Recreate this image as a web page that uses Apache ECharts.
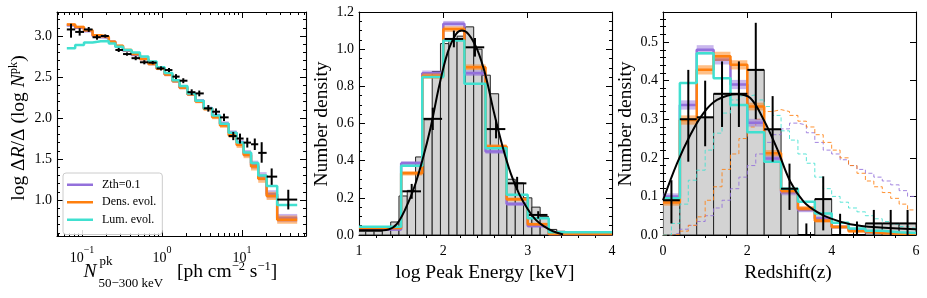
<!DOCTYPE html>
<html><head><meta charset="utf-8">
<script src="https://cdn.jsdelivr.net/npm/echarts@6/dist/echarts.min.js"></script>
<style>html,body{margin:0;padding:0;background:#fff}#c{width:927px;height:298px}</style>
</head><body><div id="c"></div>
<script>
// ================= DATA =================
// ---- Left panel: logN-logS (x in ph cm^-2 s^-1) ----
const leftEdges = [0.0646,0.0822,0.1059,0.1355,0.1718,0.2163,0.2612,0.3258,0.4159,0.5297,0.6761,0.8570,1.079,1.349,1.660,2.080,2.618,3.327,4.236,5.309,6.808,8.570,10.47,12.97,15.96,20.32,27.54,48.98];
const leftZth  = [3.13,3.10,3.06,3.00,2.98,2.93,2.87,2.82,2.77,2.72,2.66,2.60,2.53,2.45,2.37,2.29,2.21,2.12,2.03,1.93,1.82,1.70,1.57,1.43,1.29,1.07,0.78];
const leftZthErr = [0.015,0.015,0.015,0.015,0.015,0.015,0.015,0.015,0.015,0.015,0.015,0.015,0.02,0.02,0.02,0.02,0.02,0.02,0.025,0.03,0.03,0.035,0.04,0.05,0.05,0.05,0.05];
const leftDens = [3.14,3.11,3.07,3.01,2.99,2.93,2.88,2.83,2.78,2.72,2.66,2.60,2.53,2.45,2.37,2.29,2.20,2.11,2.01,1.91,1.79,1.67,1.55,1.41,1.26,1.05,0.76];
const leftDensErr = [0.015,0.015,0.015,0.015,0.015,0.015,0.015,0.015,0.015,0.015,0.015,0.015,0.02,0.02,0.02,0.02,0.02,0.02,0.025,0.03,0.03,0.035,0.04,0.05,0.05,0.05,0.05];
const leftLum  = [2.85,2.89,2.92,2.935,2.94,2.91,2.87,2.83,2.80,2.75,2.69,2.62,2.55,2.46,2.39,2.30,2.21,2.12,2.03,1.93,1.82,1.70,1.58,1.45,1.30,1.17,0.94];
const leftObsBin = [0,1,2,3,4,6,7,8,9,10,11,12,13,14,15,16,17,18,19,20,21,22,23,24,25,26];
const leftObsX = [0.0729,0.0935,0.1213,0.154,0.1954,0.2877,0.365,0.469,0.601,0.766,0.972,1.223,1.496,1.845,2.35,2.924,3.793,4.732,5.957,7.78,9.44,11.64,14.45,17.62,23.5,37.9];
const leftObsY = [3.08,3.05,3.08,2.985,3.0,2.83,2.78,2.73,2.68,2.675,2.605,2.585,2.505,2.455,2.315,2.30,2.118,2.077,2.008,1.78,1.75,1.70,1.68,1.575,1.285,1.005];
const leftObsErrLo = [0.10,0.045,0.03,0.03,0.02,0.025,0.02,0.025,0.025,0.02,0.025,0.025,0.03,0.03,0.035,0.035,0.04,0.04,0.045,0.05,0.06,0.06,0.07,0.12,0.10,0.12];
const leftObsErrHi = [0.07,0.045,0.03,0.03,0.02,0.025,0.02,0.025,0.025,0.02,0.025,0.025,0.03,0.03,0.035,0.035,0.04,0.04,0.045,0.05,0.06,0.06,0.07,0.13,0.10,0.12];

// ---- Middle panel: log Peak Energy ----
const midHistEdges = [0.982,1.08,1.179,1.277,1.376,1.474,1.572,1.671,1.769,1.868,1.966,2.065,2.163,2.262,2.36,2.459,2.557,2.656,2.754,2.853,2.951,3.05,3.148,3.247,3.345,3.444];
const midHist = [0.02,0.02,0.02,0.03,0.07,0.21,0.24,0.42,0.62,0.88,1.03,1.05,1.07,1.12,1.0,0.86,0.76,0.47,0.30,0.28,0.20,0.15,0.10,0.03,0.02];
const midModelEdges = [1.0,1.5,1.75,2.0,2.25,2.5,2.75,3.0,3.25,4.0];
const midZth  = [0.030,0.386,0.870,1.137,0.871,0.449,0.167,0.048,0.005];
const midDens = [0.037,0.332,0.855,1.108,0.903,0.476,0.192,0.058,0.005];
const midLum  = [0.045,0.373,0.850,1.047,0.814,0.467,0.216,0.090,0.0145];
const midBandErr = [0.006,0.012,0.015,0.015,0.015,0.012,0.01,0.008,0.004];
const midObsX = [1.625,1.875,2.125,2.375,2.625,2.875,3.125];
const midObsY = [0.235,0.625,1.055,1.010,0.570,0.278,0.108];
const midObsXErr = [0.11,0.11,0.11,0.11,0.11,0.11,0.11];
const midObsYErr = [0.04,0.06,0.045,0.05,0.05,0.035,0.02];
const midFitX = [1.0,1.2,1.35,1.45,1.55,1.65,1.75,1.85,1.95,2.05,2.15,2.22,2.3,2.4,2.5,2.6,2.7,2.8,2.9,3.0,3.1,3.2,3.3,3.42];
const midFitY = [0.025,0.025,0.03,0.06,0.14,0.25,0.40,0.58,0.80,0.98,1.08,1.10,1.08,1.00,0.86,0.66,0.48,0.33,0.22,0.14,0.08,0.045,0.02,0.003];

// ---- Right panel: redshift ----
const rightEdges = [0,0.4,0.8,1.2,1.6,2.0,2.4,2.8,3.2,3.6,4.0,4.4,4.8,5.2,5.6,6.0];
const rightHist = [0.0926,0.30,0.305,0.366,0.366,0.428,0.274,0.12,0,0.093,0,0,0.03,0.03,0.03];
const rightZth  = [0.100,0.337,0.480,0.454,0.390,0.291,0.198,0.110,0.065,0.043,0.021,0.013,0.007,0.004,0.004];
const rightDens = [0.084,0.298,0.428,0.463,0.441,0.333,0.212,0.115,0.069,0.037,0.021,0.010,0.005,0.003,0.003];
const rightLum  = [0.095,0.394,0.471,0.406,0.337,0.266,0.190,0.120,0.086,0.056,0.032,0.017,0.011,0.007,0.005];
const rightBandErr = [0.008,0.012,0.012,0.012,0.012,0.01,0.008,0.007,0.006,0.005,0.004,0.003,0.002,0.002,0.002];
const rightObsX = [0.2,0.6,1.0,1.4,1.8,2.2,2.6,3.0,3.4,3.8,4.2,4.6,5.0,5.4,5.8];
const rightObsY = [0.09,0.30,0.305,0.366,0.366,0.428,0.274,0.12,0,0.093,0,0,0.03,0.03,0.03];
const rightObsLo = [0.03,0.19,0.23,0.28,0.28,0.30,0.19,0.065,0,0.012,0,0,0,0,0];
const rightObsHi = [0.142,0.428,0.40,0.45,0.45,0.55,0.36,0.185,0.03,0.152,0.055,0.035,0.065,0.065,0.065];
const rightIntrEdges = [0,0.2,0.4,0.6,0.8,1.0,1.2,1.4,1.6,1.8,2.0,2.2,2.4,2.6,2.8,3.0,3.2,3.4,3.6,3.8,4.0,4.2,4.4,4.6,4.8,5.0,5.2,5.4,5.6,5.8,6.0];
const rightIntrZth  = [0,0.005,0.015,0.025,0.035,0.05,0.07,0.09,0.12,0.15,0.18,0.21,0.24,0.26,0.275,0.29,0.285,0.265,0.24,0.22,0.21,0.195,0.18,0.17,0.16,0.15,0.14,0.13,0.115,0.10];
const rightIntrDens = [0,0.002,0.01,0.025,0.047,0.09,0.125,0.17,0.21,0.25,0.28,0.30,0.32,0.325,0.32,0.31,0.295,0.28,0.26,0.24,0.22,0.20,0.18,0.16,0.14,0.125,0.11,0.095,0.08,0.065];
const rightIntrLum  = [0,0.03,0.08,0.142,0.168,0.22,0.264,0.316,0.35,0.36,0.363,0.35,0.333,0.31,0.27,0.246,0.21,0.186,0.15,0.12,0.10,0.085,0.07,0.06,0.05,0.042,0.035,0.028,0.022,0.017];
const rightFitX = [0.0,0.33,0.65,0.96,1.28,1.75,2.07,2.39,2.7,3.02,3.34,3.65,3.97,4.44,5.07,6.0];
const rightFitY = [0.09,0.185,0.26,0.316,0.35,0.365,0.355,0.298,0.225,0.138,0.086,0.06,0.043,0.028,0.02,0.015];

// ---- Tick values ----
const leftXMajor = [0.1,1,10];
const leftXMinor = [0.05,0.06,0.07,0.08,0.09,0.2,0.3,0.4,0.5,0.6,0.7,0.8,0.9,2,3,4,5,6,7,8,9,20,30,40,50,60];
const leftYMajor = [1.0,1.5,2.0,2.5,3.0];
const leftYMinor = [0.6,0.7,0.8,0.9,1.1,1.2,1.3,1.4,1.6,1.7,1.8,1.9,2.1,2.2,2.3,2.4,2.6,2.7,2.8,2.9,3.1,3.2];
const midXMajor = [1,2,3,4];
const midXMinor = [1.2,1.4,1.6,1.8,2.2,2.4,2.6,2.8,3.2,3.4,3.6,3.8];
const midYMajor = [0,0.2,0.4,0.6,0.8,1.0,1.2];
const midYMinor = [0.05,0.1,0.15,0.25,0.3,0.35,0.45,0.5,0.55,0.65,0.7,0.75,0.85,0.9,0.95,1.05,1.1,1.15];
const rightXMajor = [0,2,4,6];
const rightXMinor = [0.5,1,1.5,2.5,3,3.5,4.5,5,5.5];
const rightYMajor = [0,0.1,0.2,0.3,0.4,0.5];
const rightYMinor = [0.02,0.04,0.06,0.08,0.12,0.14,0.16,0.18,0.22,0.24,0.26,0.28,0.32,0.34,0.36,0.38,0.42,0.44,0.46,0.48,0.52,0.54,0.56];
const legendNames = ['Zth=0.1','Dens. evol.','Lum. evol.'];

// ================= STYLE / BUILD =================
const FONT = 'Liberation Serif';
const LFS = 19.5; // axis-title font size
const PURPLE = '#9370DB', ORANGE = '#FF7F0E', TURQ = '#40E0D0';
const PURPLE_A = 'rgba(147,112,219,0.5)', ORANGE_A = 'rgba(255,127,14,0.5)';

const grids = [
  {left:57, top:12, width:249, height:224},
  {left:359, top:12, width:253, height:223},
  {left:663, top:12, width:253, height:223}
];

function axisSet(dim, g, type, min, max, major, minor, fmt) {
  const sides = dim === 'x' ? ['bottom','top'] : ['left','right'];
  const base = {gridIndex:g, type:type, min:min, max:max, splitLine:{show:false}, silent:true};
  const line = {show:true, onZero:false, lineStyle:{color:'#000', width:1.1}};
  const lab = {show:true, customValues:major, formatter:fmt, color:'#000', fontFamily:FONT, fontSize:14, margin: dim==='x'?9:5,
    rich:{b:{fontFamily:FONT,fontSize:14,color:'#000',lineHeight:20,verticalAlign:'bottom'}, s:{fontFamily:FONT,fontSize:10,color:'#000',lineHeight:20,verticalAlign:'top'}}};
  return [
    Object.assign({}, base, {position:sides[0], axisLine:line, axisTick:{show:true,inside:true,length:6,customValues:major,lineStyle:{color:'#000'}}, axisLabel:lab}),
    Object.assign({}, base, {position:sides[1], axisLine:line, axisTick:{show:true,inside:true,length:6,customValues:major,lineStyle:{color:'#000'}}, axisLabel:{show:false}}),
    Object.assign({}, base, {position:sides[1], axisLine:{show:false}, axisTick:{show:true,inside:true,length:3,customValues:minor,lineStyle:{color:'#000'}}, axisLabel:{show:false}}),
    Object.assign({}, base, {position:sides[0], axisLine:{show:false}, axisTick:{show:true,inside:true,length:3,customValues:minor,lineStyle:{color:'#000'}}, axisLabel:{show:false}})
  ];
}

const supMap = {'0.1':'−1','1':'0','10':'1'};
const xAxes = [].concat(
  axisSet('x',0,'log',0.04868,63.1,leftXMajor,leftXMinor,v=>'{b|10}{s|'+supMap[String(+v)]+'}'),
  axisSet('x',1,'value',1,4,midXMajor,midXMinor,v=>String(v)),
  axisSet('x',2,'value',0,6,rightXMajor,rightXMinor,v=>String(v))
);
const yAxes = [].concat(
  axisSet('y',0,'value',0.561,3.293,leftYMajor,leftYMinor,v=>v.toFixed(1)),
  axisSet('y',1,'value',0,1.2,midYMajor,midYMinor,v=>v.toFixed(1)),
  axisSet('y',2,'value',0,0.578,rightYMajor,rightYMinor,v=>v.toFixed(1))
);

function stepLine(g, name, edges, vals, color, width, z, dashed) {
  const data = vals.map((v,i)=>[edges[i], v]);
  data.push([edges[edges.length-1], vals[vals.length-1]]);
  return {type:'line', name:name, xAxisIndex:g*4, yAxisIndex:g*4, step:'end', symbol:'none', showSymbol:false, z:z, silent:true, animation:false,
    lineStyle:{color:color, width:width, type: dashed ? [4,2.5] : 'solid', opacity: dashed?0.85:1}, itemStyle:{color:color}, data:data, clip:true};
}
function bandSeries(g, edges, vals, errs, color, z) {
  const data = vals.map((v,i)=>[edges[i], edges[i+1], v-errs[i], v+errs[i]]);
  return {type:'custom', xAxisIndex:g*4, yAxisIndex:g*4, z:z, silent:true, animation:false, clip:true, data:data,
    renderItem:(p,api)=>{
      const a = api.coord([api.value(0), api.value(3)]), b = api.coord([api.value(1), api.value(2)]);
      return {type:'rect', shape:{x:a[0], y:a[1], width:b[0]-a[0], height:b[1]-a[1]}, style:{fill:color}};
    }};
}
function histSeries(g, edges, heights, z) {
  const data = heights.map((h,i)=>[edges[i], edges[i+1], h]);
  return {type:'custom', xAxisIndex:g*4, yAxisIndex:g*4, z:z, silent:true, animation:false, clip:true, data:data,
    renderItem:(p,api)=>{
      const a = api.coord([api.value(0), api.value(2)]), b = api.coord([api.value(1), 0]);
      return {type:'rect', shape:{x:a[0], y:a[1], width:b[0]-a[0], height:b[1]-a[1]}, style:{fill:'#d3d3d3', stroke:'#222', lineWidth:1}};
    }};
}
function errSeries(g, rows, z) {
  return {type:'custom', xAxisIndex:g*4, yAxisIndex:g*4, z:z, silent:true, animation:false, clip:true, data:rows,
    renderItem:(p,api)=>{
      const x=api.value(0), y=api.value(1);
      const h1=api.coord([api.value(2), y]), h2=api.coord([api.value(3), y]);
      const v1=api.coord([x, api.value(4)]), v2=api.coord([x, api.value(5)]);
      return {type:'group', children:[
        {type:'line', shape:{x1:h1[0],y1:h1[1],x2:h2[0],y2:h2[1]}, style:{stroke:'#000', lineWidth:2}},
        {type:'line', shape:{x1:v1[0],y1:v1[1],x2:v2[0],y2:v2[1]}, style:{stroke:'#000', lineWidth:2}}
      ]};
    }};
}
function curve(g, xs, ys, z) {
  return {type:'line', xAxisIndex:g*4, yAxisIndex:g*4, z:z, symbol:'none', smooth:0.35, silent:true, animation:false,
    lineStyle:{color:'#000', width:2}, data:xs.map((x,i)=>[x, ys[i]]), clip:true};
}

const leftRows = leftObsX.map((x,i)=>[x, leftObsY[i], leftEdges[leftObsBin[i]], leftEdges[leftObsBin[i]+1], leftObsY[i]-leftObsErrLo[i], leftObsY[i]+leftObsErrHi[i]]);
const midRows = midObsX.map((x,i)=>[x, midObsY[i], x-midObsXErr[i], x+midObsXErr[i], midObsY[i]-midObsYErr[i], midObsY[i]+midObsYErr[i]]);
const rightRows = rightObsX.map((x,i)=>[x, rightObsY[i], rightEdges[i], rightEdges[i+1], rightObsLo[i], rightObsHi[i]]);

const series = [
  // left
  bandSeries(0, leftEdges, leftZth, leftZthErr, PURPLE_A, 2),
  stepLine(0, legendNames[0], leftEdges, leftZth, PURPLE, 2.5, 3),
  bandSeries(0, leftEdges, leftDens, leftDensErr, ORANGE_A, 4),
  stepLine(0, legendNames[1], leftEdges, leftDens, ORANGE, 2.5, 5),
  stepLine(0, legendNames[2], leftEdges, leftLum, TURQ, 2.5, 6),
  errSeries(0, leftRows, 8),
  // middle
  histSeries(1, midHistEdges, midHist, 1),
  bandSeries(1, midModelEdges, midZth, midBandErr, PURPLE_A, 2),
  stepLine(1, 'm-zth', midModelEdges, midZth, PURPLE, 2.5, 3),
  bandSeries(1, midModelEdges, midDens, midBandErr, ORANGE_A, 4),
  stepLine(1, 'm-dens', midModelEdges, midDens, ORANGE, 2.5, 5),
  stepLine(1, 'm-lum', midModelEdges, midLum, TURQ, 2.5, 6),
  errSeries(1, midRows, 8),
  curve(1, midFitX, midFitY, 9),
  // right
  histSeries(2, rightEdges, rightHist, 1),
  stepLine(2, 'r-zth-i', rightIntrEdges, rightIntrZth, PURPLE, 1, 2, true),
  stepLine(2, 'r-dens-i', rightIntrEdges, rightIntrDens, ORANGE, 1, 2, true),
  stepLine(2, 'r-lum-i', rightIntrEdges, rightIntrLum, TURQ, 1, 2, true),
  bandSeries(2, rightEdges, rightZth, rightBandErr, PURPLE_A, 3),
  stepLine(2, 'r-zth', rightEdges, rightZth, PURPLE, 2.5, 4),
  bandSeries(2, rightEdges, rightDens, rightBandErr, ORANGE_A, 5),
  stepLine(2, 'r-dens', rightEdges, rightDens, ORANGE, 2.5, 6),
  stepLine(2, 'r-lum', rightEdges, rightLum, TURQ, 2.5, 7),
  errSeries(2, rightRows, 8),
  curve(2, rightFitX, rightFitY, 9)
];

const it = {fontFamily:FONT, fontSize:LFS, fontStyle:'italic', fill:'#000', lineHeight:24};
const nr = {fontFamily:FONT, fontSize:LFS, fill:'#000', lineHeight:24};
const sp = {fontFamily:FONT, fontSize:12.5, fill:'#000', lineHeight:12, verticalAlign:'top'};
const graphics = [
  {type:'text', x:19, y:128, rotation:Math.PI/2, style:{text:'{n|log Δ}{i|R}{n|/Δ (log }{i|N}{s|pk}{n|)}', align:'center', verticalAlign:'middle', rich:{n:nr, i:it, s:sp}}},
  {type:'text', x:83.5, y:272, style:{text:'N', fontFamily:FONT, fontSize:LFS, fontStyle:'italic', fill:'#000', align:'left', verticalAlign:'middle'}},
  {type:'text', x:99.5, y:262, style:{text:'pk', fontFamily:FONT, fontSize:13, fill:'#000', align:'left', verticalAlign:'middle'}},
  {type:'text', x:98.5, y:284, style:{text:'50−300 keV', fontFamily:FONT, fontSize:13, fill:'#000', align:'left', verticalAlign:'middle'}},
  {type:'text', x:177, y:272, style:{text:'{n|[ph cm}{s|−2}{n| s}{s|−1}{n|]}', align:'left', verticalAlign:'middle', rich:{n:nr, s:sp}}},
  {type:'text', x:322, y:124, rotation:Math.PI/2, style:{text:'Number density', fontFamily:FONT, fontSize:LFS, fill:'#000', align:'center', verticalAlign:'middle'}},
  {type:'text', x:485, y:273, style:{text:'log Peak Energy [keV]', fontFamily:FONT, fontSize:LFS, fill:'#000', align:'center', verticalAlign:'middle'}},
  {type:'text', x:626, y:124, rotation:Math.PI/2, style:{text:'Number density', fontFamily:FONT, fontSize:LFS, fill:'#000', align:'center', verticalAlign:'middle'}},
  {type:'text', x:788, y:273, style:{text:'Redshift(z)', fontFamily:FONT, fontSize:LFS, fill:'#000', align:'center', verticalAlign:'middle'}}
];

const chart = echarts.init(document.getElementById('c'), null, {renderer:'canvas'});
chart.setOption({
  animation:false,
  backgroundColor:'#fff',
  grid: grids,
  xAxis: xAxes,
  yAxis: yAxes,
  legend: {show:true, data: legendNames.map(n=>({name:n, icon:'rect'})), orient:'vertical', left:63, top:173,
    itemWidth:26, itemHeight:2.5, itemGap:4, padding:[5,6,8,4], backgroundColor:'rgba(255,255,255,0.85)', borderColor:'#ccc', borderWidth:1, borderRadius:3,
    textStyle:{fontFamily:FONT, fontSize:12, color:'#000', lineHeight:13.5, padding:[0,0,0,4]}, selectedMode:false},
  series: series,
  graphic: graphics
});
</script></body></html>
